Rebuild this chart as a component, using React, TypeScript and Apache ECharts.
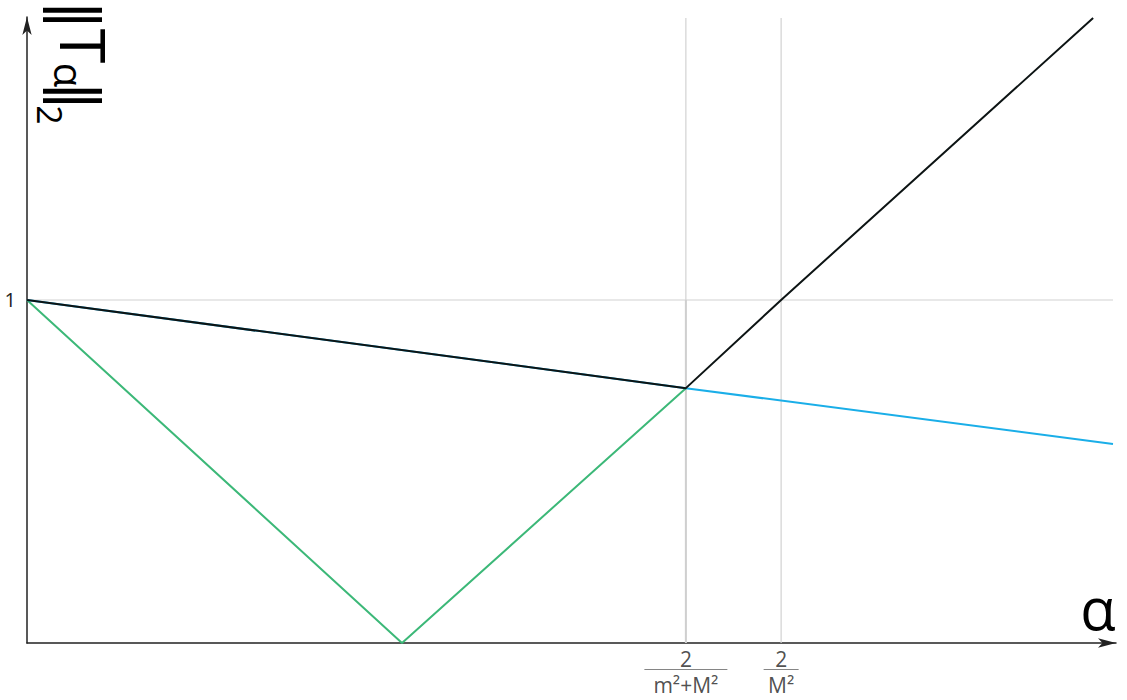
import React, { useEffect, useRef } from "react";
import * as echarts from "echarts";

// alpha positions (abscissa in units of 1/M^2)
const alphaTicks = [1.757, 2.011];
const alphaTickNumerators = ["2", "2"];
const alphaTickDenominators = ["m²+M²", "M²"];
const yTickLabel = 1;
// |1 - alpha m^2|
const blueX = [0, 1.757, 2.896];
const blueY = [1, 0.743, 0.58];
// |1 - alpha M^2|
const greenX = [0, 1.0, 1.757];
const greenY = [1, 0, 0.743];
// ||T_alpha||_2 = max of both
const blackX = [0, 1.757, 2.011, 2.843];
const blackY = [1, 0.743, 1, 1.822];
// guide lines
const hGuideX = [0, 2.896];
const hGuideY = [1, 1];
const vGuideTop = 1.822;

const X_MAX = 2.904;
const Y_MAX = 1.825;

const zip = (xs: number[], ys: number[]) => xs.map((x, i) => [x, ys[i]]);

export default function App() {
  const ref = useRef<HTMLDivElement>(null);
  useEffect(() => {
    document.body.style.margin = "0";
    const chart = echarts.init(ref.current!, null, { renderer: "svg" });
    const fam = "Open Sans";
    const guide = (data: number[][], w = 1.2, c = "#d2d2d2") => ({
      type: "line",
      data,
      symbol: "none",
      silent: true,
      lineStyle: { color: c, width: w },
      z: 1,
    });
    const barWidths = [83, 35];
    chart.setOption({
      animation: false,
      textStyle: { fontFamily: fam },
      grid: { left: 27, right: 11, top: 17, bottom: 57, outerBoundsMode: "none" },
      xAxis: {
        type: "value",
        min: 0,
        max: X_MAX,
        splitLine: { show: false },
        axisTick: { show: false },
        axisLabel: { show: false },
        axisLine: {
          show: true,
          symbol: ["none", "arrow"],
          symbolSize: [7, 18],
          lineStyle: { color: "#222", width: 1.5 },
        },
      },
      yAxis: {
        type: "value",
        min: 0,
        max: Y_MAX,
        interval: 1,
        splitLine: { show: false },
        axisTick: { show: false },
        axisLine: {
          show: true,
          symbol: ["none", "arrow"],
          symbolSize: [7, 18],
          lineStyle: { color: "#222", width: 1.5 },
        },
        axisLabel: {
          showMaxLabel: false,
          margin: 11,
          fontSize: 20,
          color: "#222",
          fontFamily: fam,
          formatter: (v: number) => (v === yTickLabel ? String(v) : ""),
        },
      },
      series: [
        guide(zip(hGuideX, hGuideY)),
        guide([[alphaTicks[0], 0], [alphaTicks[0], vGuideTop]], 1.2),
        guide([[alphaTicks[0], 0], [alphaTicks[0], 1]], 2, "#cfcfcf"),
        guide([[alphaTicks[1], 0], [alphaTicks[1], vGuideTop]], 1.2),
        {
          type: "line",
          data: zip(greenX, greenY),
          symbol: "none",
          lineStyle: { color: "#3cb878", width: 2 },
          z: 2,
        },
        {
          type: "line",
          data: zip(blueX, blueY),
          symbol: "none",
          lineStyle: { color: "#1aaee8", width: 2 },
          z: 3,
        },
        {
          type: "line",
          data: zip(blackX, blackY),
          symbol: "none",
          lineStyle: { color: "#0d1414", width: 2 },
          z: 4,
        },
        {
          // tick labels of the alpha axis (fractions), placed by the x scale
          type: "scatter",
          data: alphaTicks.map((x) => [x, 0]),
          symbolSize: 1,
          itemStyle: { color: "rgba(0,0,0,0)" },
          silent: true,
          clip: false,
          z: 5,
          label: {
            show: true,
            position: "bottom",
            distance: 5,
            formatter: (p: any) =>
              `{n|${alphaTickNumerators[p.dataIndex]}}\n{bar${p.dataIndex}|\u00a0}\n{d|${alphaTickDenominators[p.dataIndex]}}`,
            rich: {
              n: { fontSize: 21, lineHeight: 20, align: "center", color: "#222", fontFamily: fam },
              bar0: { width: barWidths[0], height: 1, lineHeight: 2, backgroundColor: "#666", fontSize: 1, align: "center" },
              bar1: { width: barWidths[1], height: 1, lineHeight: 2, backgroundColor: "#666", fontSize: 1, align: "center" },
              d: { fontSize: 21, lineHeight: 29, align: "center", color: "#222", fontFamily: fam },
            },
          },
        },
      ],
      graphic: [
        {
          type: "group",
          x: 107,
          y: 2,
          rotation: -Math.PI / 2,
          children: [
            { type: "text", x: 13, y: 30, style: { text: "‖", fontSize: 58, fontFamily: "DejaVu Sans", fill: "#000", align: "center", verticalAlign: "middle" } },
            { type: "text", x: 44, y: 22.5, style: { text: "T", fontSize: 63, fontFamily: fam, fill: "#000", align: "center", verticalAlign: "middle" } },
            { type: "text", x: 73, y: 38, style: { text: "α", fontSize: 40, fontFamily: fam, fill: "#000", align: "center", verticalAlign: "middle" } },
            { type: "text", x: 94, y: 30, style: { text: "‖", fontSize: 58, fontFamily: "DejaVu Sans", fill: "#000", align: "center", verticalAlign: "middle" } },
            { type: "text", x: 113, y: 57.5, style: { text: "2", fontSize: 34, fontFamily: fam, fill: "#000", align: "center", verticalAlign: "middle" } },
          ],
        },
        {
          type: "text",
          x: 1098,
          y: 607,
          style: { text: "α", fontSize: 58, fontFamily: fam, fill: "#000", align: "center", verticalAlign: "middle" },
        },
      ],
    });
    return () => chart.dispose();
  }, []);
  return <div ref={ref} style={{ width: 1127, height: 700 }} />;
}
